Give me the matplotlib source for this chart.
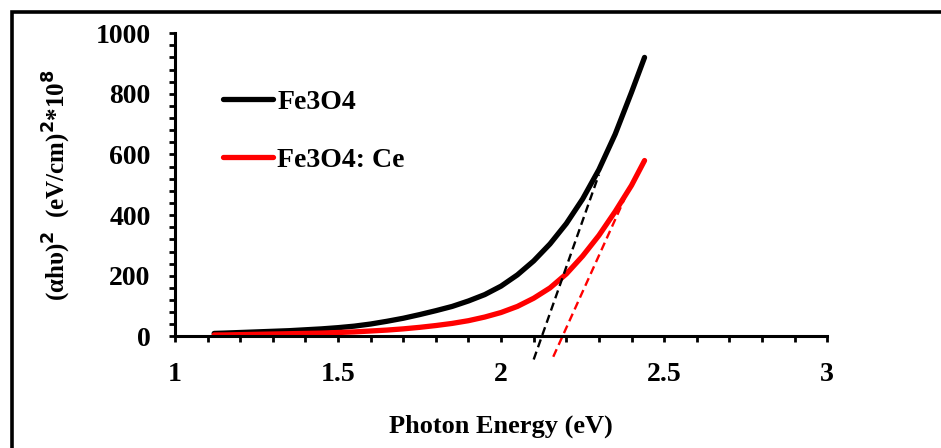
"""
Tauc plot, (alpha h nu)^2 vs photon energy, Fe3O4 and Ce-doped Fe3O4
"""

import matplotlib

matplotlib.use("Agg")
import matplotlib.pyplot as plt
from matplotlib.patches import Rectangle
from matplotlib.ticker import MultipleLocator

# photon energy (eV) and (ahv)^2 * 1e-8 for both samples
energy = [1.12, 1.15, 1.2, 1.25, 1.3, 1.35, 1.4, 1.45, 1.5, 1.55, 1.6, 1.65,
          1.7, 1.75, 1.8, 1.85, 1.9, 1.95, 2.0, 2.05, 2.1, 2.15, 2.2, 2.25,
          2.3, 2.35, 2.4, 2.44]
fe3o4 = [10, 11, 13, 15, 17, 19, 22, 25, 29, 34, 41, 50,
         60, 72, 85, 99, 117, 138, 166, 203, 249, 305, 372, 453,
         550, 667, 805, 920]
fe3o4_ce = [5, 5, 6, 7, 8, 9, 10, 11, 13, 15, 18, 21,
            25, 30, 36, 43, 52, 64, 79, 99, 126, 160, 206, 265,
            333, 412, 498, 580]

# linear extrapolations of the absorption edge
fit_energy = [2.10, 2.30]
fit_fe3o4 = [-76, 534]
fit_ce_energy = [2.16, 2.38]
fit_ce = [-67, 457]

labels = ["Fe3O4", "Fe3O4: Ce"]
font = ["Liberation Serif", "DejaVu Serif"]

plt.rcParams["font.family"] = font
plt.rcParams["font.weight"] = "bold"

fig = plt.figure(figsize=(9.41, 4.48), dpi=100)
ax = fig.add_axes([0.186, 0.249, 0.693, 0.677])

ax.plot(energy, fe3o4, color="black", lw=3.8, solid_capstyle="round",
        solid_joinstyle="round", label=labels[0])
ax.plot(energy, fe3o4_ce, color="#ff0000", lw=3.8, solid_capstyle="round",
        solid_joinstyle="round", label=labels[1])
ax.plot(fit_energy, fit_fe3o4, color="black", lw=1.7, dashes=(3.5, 2),
        clip_on=False)
ax.plot(fit_ce_energy, fit_ce, color="#ff0000", lw=1.7, dashes=(3.5, 2),
        clip_on=False)

ax.set_xlim(1, 3)
ax.set_ylim(0, 1000)
ax.xaxis.set_major_locator(MultipleLocator(0.5))
ax.xaxis.set_minor_locator(MultipleLocator(0.1))
ax.yaxis.set_major_locator(MultipleLocator(200))
ax.yaxis.set_minor_locator(MultipleLocator(40))
ax.set_xticks([1, 1.5, 2, 2.5, 3], ["1", "1.5", "2", "2.5", "3"])

for side in ["top", "right"]:
    ax.spines[side].set_visible(False)
for side in ["left", "bottom"]:
    ax.spines[side].set_linewidth(2.2)

ax.tick_params(which="both", direction="out", length=4.5, width=2)
ax.tick_params(axis="x", which="major", labelsize=20, pad=14)
ax.tick_params(axis="y", which="major", labelsize=20, pad=13)

ax.set_xlabel("Photon Energy (eV)", fontsize=19, fontweight="bold", labelpad=20)
ax.set_ylabel("(αhυ)$^{\\mathbf{2}}$  (eV/cm)$^{\\mathbf{2}}$*10$^{\\mathbf{8}}$",
              fontsize=18, fontweight="bold", labelpad=16)

leg = ax.legend(loc="upper left", bbox_to_anchor=(0.074, 0.815), frameon=False,
                fontsize=20, handlelength=1.8, handletextpad=0.15,
                labelspacing=1.18, borderaxespad=0, borderpad=0)
for line in leg.get_lines():
    line.set_linewidth(3.8)
    line.set_solid_capstyle("round")

# outer frame around the figure
fig.patches.append(Rectangle((11.5 / 941, -0.1), 1.2, 1.1 - 12.5 / 448,
                             transform=fig.transFigure, fill=False,
                             edgecolor="black", lw=2.6))

fig.savefig("out.png", dpi=100)
